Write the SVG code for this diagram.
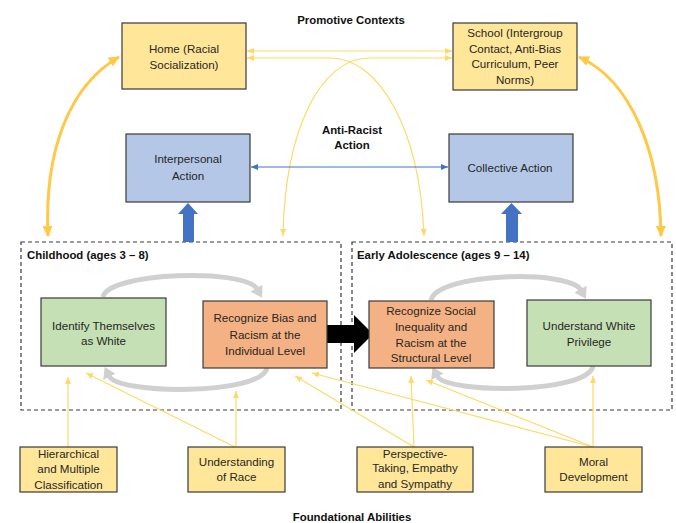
<svg xmlns="http://www.w3.org/2000/svg" width="676" height="523" viewBox="0 0 676 523">
<style>
text{font-family:"Liberation Sans",Arial,sans-serif;font-size:11.6px;fill:#262626;text-anchor:middle}
.b{font-weight:bold;fill:#111;font-size:11.4px}
.l{text-anchor:start}
.box{stroke:#3a3a3a;stroke-width:1.2}
.y{fill:#FFE699}
.bl{fill:#B4C7E7}
.g{fill:#C5E0B4}
.o{fill:#F4B183}
.dash{fill:none;stroke:#3a3a3a;stroke-width:1.2;stroke-dasharray:4 3}
.thin{fill:none;stroke:#FFD966;stroke-width:1.2}
.thick{fill:none;stroke:#FFC845;stroke-width:3}
.gray{fill:none;stroke:#D0D0D0;stroke-width:5}
</style>
<defs>
<marker id="ty" markerUnits="userSpaceOnUse" viewBox="0 -3 7 6" refX="7" refY="0" markerWidth="7" markerHeight="6" orient="auto-start-reverse"><path d="M0,-3L7,0L0,3z" fill="#FFD966"/></marker>
<marker id="tk" markerUnits="userSpaceOnUse" viewBox="0 -5 11 10" refX="10" refY="0" markerWidth="11" markerHeight="10" orient="auto-start-reverse"><path d="M0,-5L11,0L0,5z" fill="#FFC845"/></marker>
<marker id="tb" markerUnits="userSpaceOnUse" viewBox="0 -3 7 6" refX="7" refY="0" markerWidth="7" markerHeight="6" orient="auto-start-reverse"><path d="M0,-3L7,0L0,3z" fill="#4472C4"/></marker>
<marker id="tg" markerUnits="userSpaceOnUse" viewBox="0 -7 11 14" refX="1" refY="0" markerWidth="11" markerHeight="14" orient="auto"><path d="M0,-7L11,0L0,7z" fill="#D0D0D0"/></marker>
</defs>

<text class="b" x="351" y="24">Promotive Contexts</text>
<text class="b" x="352" y="134">Anti-Racist</text>
<text class="b" x="352" y="149">Action</text>
<text class="b" x="352" y="521">Foundational Abilities</text>

<g id="childhood">
<rect class="dash" x="21" y="242" width="320" height="168"/>
<text class="b l" x="27" y="259">Childhood (ages 3 – 8)</text>
</g>
<g id="early-adolescence">
<rect class="dash" x="352" y="242" width="320" height="168"/>
<text class="b l" x="357" y="259">Early Adolescence (ages 9 – 14)</text>
</g>

<g id="connectors">
<path class="thin" d="M247,51L452,51" marker-start="url(#ty)" marker-end="url(#ty)"/>
<path class="thin" d="M247,58L330,58C380,58 420,130 424,236" marker-start="url(#ty)" marker-end="url(#ty)"/>
<path class="thin" d="M452,58L370,58C320,58 285,130 283,236" marker-start="url(#ty)" marker-end="url(#ty)"/>
<path class="thick" d="M48,236C44,150 70,85 119,57" marker-start="url(#tk)" marker-end="url(#tk)"/>
<path class="thick" d="M579,57C630,80 660,150 661,236" marker-start="url(#tk)" marker-end="url(#tk)"/>
<path d="M251,167L448,167" fill="none" stroke="#4472C4" stroke-width="1.2" marker-start="url(#tb)" marker-end="url(#tb)"/>
<polygon points="183,242 183,214 178,214 188,203 198,214 194,214 194,242" fill="#4472C4"/>
<polygon points="506,242 506,214 501,214 511.5,203 522,214 518,214 518,242" fill="#4472C4"/>
<path class="gray" d="M103,297C108,272 245,268 257,289" marker-end="url(#tg)"/>
<path class="gray" d="M267,368C262,395 118,395 109,376" marker-end="url(#tg)"/>
<path class="gray" d="M431,300C437,273 569,269 581,290" marker-end="url(#tg)"/>
<path class="gray" d="M593,366C588,394 446,394 437,376" marker-end="url(#tg)"/>
<polygon points="327,325 354,325 354,315 373,334 354,353 354,343 327,343" fill="#000"/>
<path class="thin" d="M68,447L68,377" marker-end="url(#ty)"/>
<path class="thin" d="M235,447L86,373" marker-end="url(#ty)"/>
<path class="thin" d="M236,447L236,391" marker-end="url(#ty)"/>
<path class="thin" d="M414,447L295,376" marker-end="url(#ty)"/>
<path class="thin" d="M414,447L411,376" marker-end="url(#ty)"/>
<path class="thin" d="M593,447L312,373" marker-end="url(#ty)"/>
<path class="thin" d="M593,447L426,380" marker-end="url(#ty)"/>
<path class="thin" d="M593,447L593,376" marker-end="url(#ty)"/>
</g>

<g id="home">
<rect class="box y" x="122" y="23" width="124" height="66"/>
<text x="184" y="53">Home (Racial</text>
<text x="184" y="69">Socialization)</text>
</g>
<g id="school">
<rect class="box y" x="453" y="23" width="124" height="67"/>
<text x="515" y="37">School (Intergroup</text>
<text x="515" y="53">Contact, Anti-Bias</text>
<text x="515" y="68">Curriculum, Peer</text>
<text x="515" y="84">Norms)</text>
</g>
<g id="interpersonal">
<rect class="box bl" x="126" y="134" width="124" height="68"/>
<text x="188" y="163">Interpersonal</text>
<text x="188" y="180">Action</text>
</g>
<g id="collective">
<rect class="box bl" x="449" y="134" width="124" height="68"/>
<text x="510" y="172">Collective Action</text>
</g>
<g id="identify">
<rect class="box g" x="41" y="298" width="125" height="68"/>
<text x="103.5" y="330">Identify Themselves</text>
<text x="103.5" y="345">as White</text>
</g>
<g id="bias">
<rect class="box o" x="203" y="301" width="124" height="67"/>
<text x="265" y="322">Recognize Bias and</text>
<text x="265" y="339">Racism at the</text>
<text x="265" y="355">Individual Level</text>
</g>
<g id="structural">
<rect class="box o" x="369" y="301" width="125" height="67"/>
<text x="431" y="315">Recognize Social</text>
<text x="431" y="331">Inequality and</text>
<text x="431" y="347">Racism at the</text>
<text x="431" y="362">Structural  Level</text>
</g>
<g id="privilege">
<rect class="box g" x="527" y="300" width="124" height="66"/>
<text x="589" y="330">Understand White</text>
<text x="589" y="346">Privilege</text>
</g>
<g id="hierarchical">
<rect class="box y" x="20" y="447" width="97" height="45"/>
<text x="68.5" y="458">Hierarchical</text>
<text x="68.5" y="473">and Multiple</text>
<text x="68.5" y="489">Classification</text>
</g>
<g id="race">
<rect class="box y" x="188" y="447" width="97" height="45"/>
<text x="236.5" y="466">Understanding</text>
<text x="236.5" y="481">of Race</text>
</g>
<g id="perspective">
<rect class="box y" x="357" y="447" width="116" height="45"/>
<text x="415" y="458">Perspective-</text>
<text x="415" y="472">Taking, Empathy</text>
<text x="415" y="488">and Sympathy</text>
</g>
<g id="moral">
<rect class="box y" x="545" y="447" width="97" height="45"/>
<text x="593.5" y="466">Moral</text>
<text x="593.5" y="481">Development</text>
</g>
</svg>
